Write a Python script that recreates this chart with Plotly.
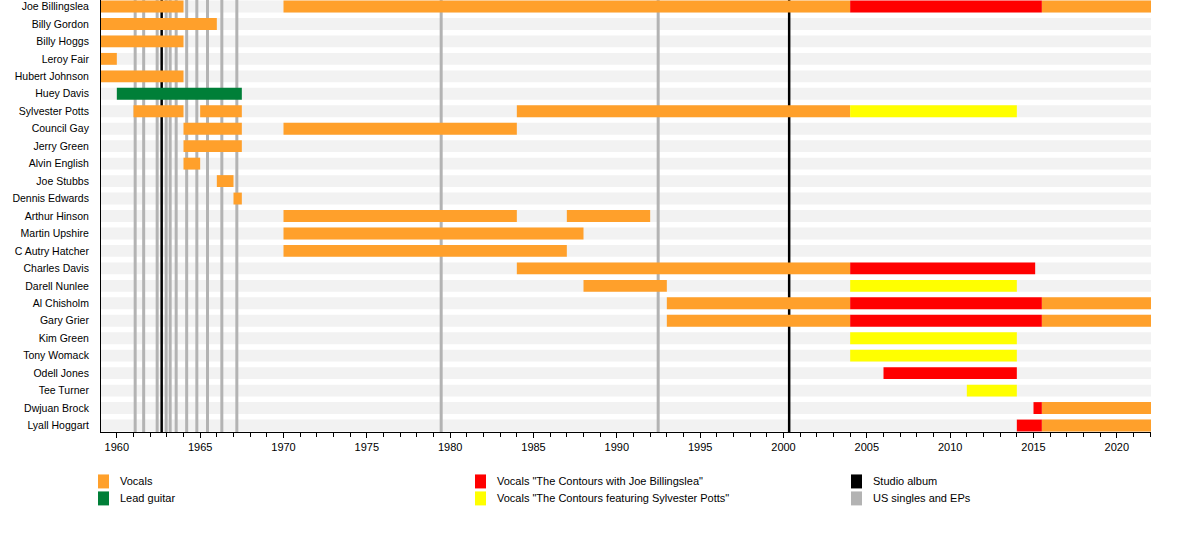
import plotly.graph_objects as go

# ---------------- data ----------------
members = ["Joe Billingslea", "Billy Gordon", "Billy Hoggs", "Leroy Fair", "Hubert Johnson",
           "Huey Davis", "Sylvester Potts", "Council Gay", "Jerry Green", "Alvin English",
           "Joe Stubbs", "Dennis Edwards", "Arthur Hinson", "Martin Upshire", "C Autry Hatcher",
           "Charles Davis", "Darell Nunlee", "Al Chisholm", "Gary Grier", "Kim Green",
           "Tony Womack", "Odell Jones", "Tee Turner", "Dwjuan Brock", "Lyall Hoggart"]

TL_START = 1959.05
TL_END = 2022.05

# Vocals
vocals_member = ["Joe Billingslea", "Joe Billingslea", "Joe Billingslea", "Billy Gordon", "Billy Hoggs",
                 "Leroy Fair", "Hubert Johnson", "Sylvester Potts", "Sylvester Potts", "Sylvester Potts",
                 "Council Gay", "Council Gay", "Jerry Green", "Alvin English", "Joe Stubbs",
                 "Dennis Edwards", "Arthur Hinson", "Arthur Hinson", "Martin Upshire", "C Autry Hatcher",
                 "Charles Davis", "Darell Nunlee", "Al Chisholm", "Al Chisholm", "Gary Grier",
                 "Gary Grier", "Dwjuan Brock", "Lyall Hoggart"]
vocals_start = [TL_START, 1970, 2015.5, TL_START, TL_START,
                TL_START, TL_START, 1961, 1965, 1984,
                1964, 1970, 1964, 1964, 1966,
                1967, 1970, 1987, 1970, 1970,
                1984, 1988, 1993, 2015.5, 1993,
                2015.5, 2015.5, 2015.5]
vocals_end = [1964, 2004, TL_END, 1966, 1964,
              1960, 1964, 1964, 1967.5, 2004,
              1967.5, 1984, 1967.5, 1965, 1967,
              1967.5, 1984, 1992, 1988, 1987,
              2004, 1993, 2004, TL_END, 2004,
              TL_END, TL_END, TL_END]

# Lead guitar
guitar_member = ["Huey Davis"]
guitar_start = [1960]
guitar_end = [1967.5]

# Vocals "The Contours with Joe Billingslea"
cwjb_member = ["Joe Billingslea", "Charles Davis", "Al Chisholm", "Gary Grier", "Odell Jones",
               "Dwjuan Brock", "Lyall Hoggart"]
cwjb_start = [2004, 2004, 2004, 2004, 2006, 2015, 2014]
cwjb_end = [2015.5, 2015.1, 2015.5, 2015.5, 2014, 2015.5, 2015.5]

# Vocals "The Contours featuring Sylvester Potts"
cfsp_member = ["Sylvester Potts", "Darell Nunlee", "Kim Green", "Tony Womack", "Tee Turner"]
cfsp_start = [2004, 2004, 2004, 2004, 2011]
cfsp_end = [2014, 2014, 2014, 2014, 2014]

# Releases
studio_albums = [1962.69, 2000.34]
singles_eps = [1961.10, 1961.61, 1962.42, 1962.96, 1963.20, 1963.56, 1964.19,
               1964.80, 1965.44, 1966.30, 1967.20, 1979.46, 1992.48]

legend_labels = ["Vocals", "Lead guitar",
                 'Vocals "The Contours with Joe Billingslea"',
                 'Vocals "The Contours featuring Sylvester Potts"',
                 "Studio album", "US singles and EPs"]

# ---------------- styles ----------------
C_VOCALS = "#FFA02B"
C_GUITAR = "#007F38"
C_CWJB = "#FF0000"
C_CFSP = "#FFFF00"
C_ALBUM = "#000000"
C_SINGLE = "#B3B3B3"
BAND = "#F2F2F2"
FONT = "Liberation Sans, Arial, sans-serif"
BAR_W = 0.68

idx = {m: i for i, m in enumerate(members)}

W, H = 1200, 557
ML, MR, MT = 101, 49, 0
PLOT_H = 432.5
MB = H - MT - PLOT_H
PLOT_W = W - ML - MR
ROW_PX = 17.5
Y_TOP = -6.5 / ROW_PX
Y_BOT = len(members) - 1 + 6.5 / ROW_PX


def px(x):
    return (x - ML) / PLOT_W


def py(y):
    return (MT + PLOT_H - y) / PLOT_H


fig = go.Figure()

shapes = []
# background bands per member row
for i, m in enumerate(members):
    shapes.append(dict(type="rect", xref="x", yref="y", x0=TL_START, x1=TL_END,
                       y0=i - BAR_W / 2, y1=i + BAR_W / 2, fillcolor=BAND,
                       line=dict(width=0), layer="below"))
# release lines (drawn above bands, below bars)
for r in singles_eps:
    shapes.append(dict(type="line", xref="x", yref="y", x0=r, x1=r, y0=Y_TOP, y1=Y_BOT,
                       line=dict(color=C_SINGLE, width=3), layer="below"))
for r in studio_albums:
    shapes.append(dict(type="line", xref="x", yref="y", x0=r, x1=r, y0=Y_TOP, y1=Y_BOT,
                       line=dict(color=C_ALBUM, width=2.5), layer="below"))


def add_role(mem, st, en, color, name):
    fig.add_trace(go.Bar(
        orientation="h",
        y=[idx[m] for m in mem],
        base=st,
        x=[e - s for s, e in zip(st, en)],
        width=BAR_W,
        marker=dict(color=color, line=dict(width=0)),
        name=name,
        showlegend=False,
        hovertemplate="%{base:.1f} - %{x:.1f}<extra>" + name + "</extra>",
    ))


add_role(vocals_member, vocals_start, vocals_end, C_VOCALS, legend_labels[0])
add_role(guitar_member, guitar_start, guitar_end, C_GUITAR, legend_labels[1])
add_role(cwjb_member, cwjb_start, cwjb_end, C_CWJB, legend_labels[2])
add_role(cfsp_member, cfsp_start, cfsp_end, C_CFSP, legend_labels[3])

# custom legend (3 columns x 2 rows)
legend_colors = [C_VOCALS, C_GUITAR, C_CWJB, C_CFSP, C_ALBUM, C_SINGLE]
col_x = [98, 475, 851]
row_y = [482, 499]
annotations = []
for k, (lab, col) in enumerate(zip(legend_labels, legend_colors)):
    c, r = divmod(k, 2)
    x0 = col_x[c]
    yc = row_y[r]
    shapes.append(dict(type="rect", xref="paper", yref="paper",
                       x0=px(x0), x1=px(x0 + 11), y0=py(yc + 7), y1=py(yc - 7),
                       fillcolor=col, line=dict(width=0)))
    annotations.append(dict(xref="paper", yref="paper", x=px(x0 + 20), y=py(yc),
                            text=lab, showarrow=False, xanchor="left", yanchor="middle",
                            font=dict(family=FONT, size=11, color="black")))

fig.update_layout(
    width=W, height=H,
    margin=dict(l=ML, r=MR, t=MT, b=MB, pad=0),
    paper_bgcolor="white", plot_bgcolor="white",
    barmode="overlay",
    showlegend=False,
    shapes=shapes,
    annotations=annotations,
    font=dict(family=FONT, size=11, color="black"),
    xaxis=dict(range=[TL_START, TL_END], showgrid=False, zeroline=False,
               showline=True, linecolor="black", linewidth=1,
               ticks="outside", ticklen=5, tickwidth=1, tickcolor="black",
               tick0=1960, dtick=5,
               minor=dict(ticks="outside", ticklen=4, dtick=1, tick0=1960, tickcolor="black"),
               tickfont=dict(family="Liberation Sans Narrow, Liberation Sans, Arial", size=11)),
    yaxis=dict(range=[Y_BOT, Y_TOP], showgrid=False, zeroline=False,
               showline=True, linecolor="black", linewidth=1,
               tickmode="array", tickvals=list(range(len(members))), ticktext=members,
               ticks="outside", ticklen=9, tickcolor="rgba(0,0,0,0)",
               ticklabeloverflow="allow",
               tickfont=dict(family=FONT, size=10.5)),
)

fig.write_html("out.html", config={"displayModeBar": False},
               post_script="document.body.style.margin='0';")
